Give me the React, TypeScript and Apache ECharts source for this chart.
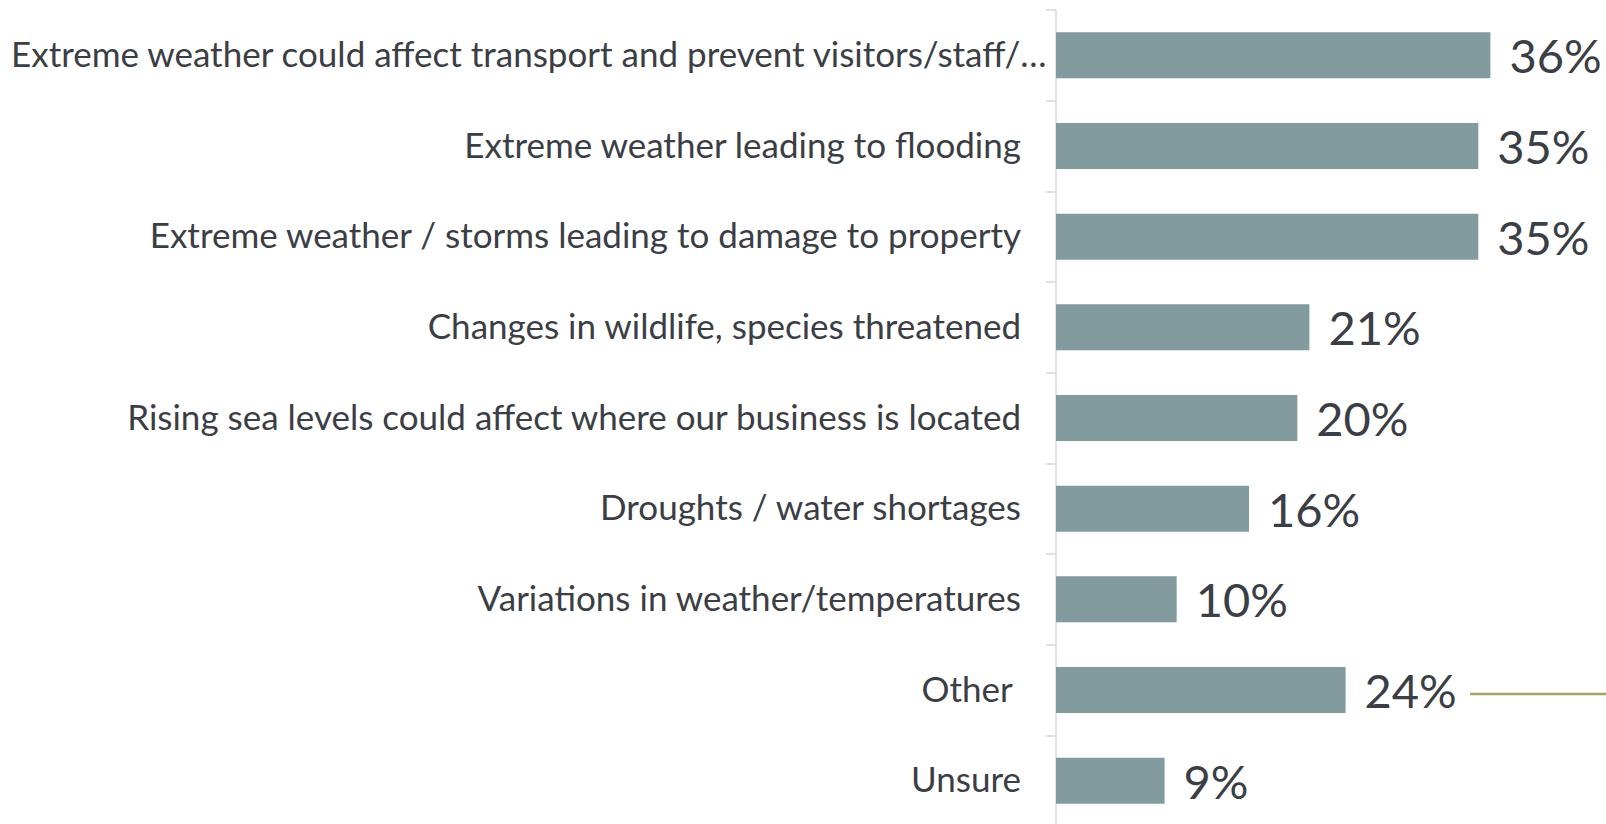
import React, { useEffect, useRef } from "react";
import * as echarts from "echarts";

const categories = [
  "Extreme weather could affect transport and prevent visitors/staff/…",
  "Extreme weather leading to flooding",
  "Extreme weather / storms leading to damage to property",
  "Changes in wildlife, species threatened",
  "Rising sea levels could affect where our business is located",
  "Droughts / water shortages",
  "Variations in weather/temperatures",
  "Other ",
  "Unsure",
];
const values = [36, 35, 35, 21, 20, 16, 10, 24, 9];

const FONT = "Lato";
const TEXT = "#3B3E45";

export default function App() {
  const ref = useRef<HTMLDivElement>(null);
  useEffect(() => {
    if (!ref.current) return;
    const chart = echarts.init(ref.current, null, { renderer: "svg" });
    chart.setOption({
      animation: false,
      backgroundColor: "#ffffff",
      grid: {
        left: 1056,
        top: 10,
        width: 543,
        height: 816,
        containLabel: false,
        outerBoundsMode: "none",
      },
      xAxis: {
        type: "value",
        min: 0,
        max: 45,
        show: false,
      },
      yAxis: {
        type: "category",
        inverse: true,
        data: categories,
        axisLine: { show: true, lineStyle: { color: "#D9D9D9", width: 1.5 } },
        axisTick: { show: true, length: 10, lineStyle: { color: "#D9D9D9", width: 1.5 } },
        axisLabel: {
          margin: 35,
          fontFamily: FONT,
          fontSize: 35,
          color: TEXT,
          padding: [0, 0, 5, 0],
          formatter: (v: string, i: number) => (i === 0 ? `{first|${v}}` : v),
          rich: {
            first: {
              width: 1010,
              align: "left",
              fontFamily: FONT,
              fontSize: 35,
              color: TEXT,
            },
          },
        },
        splitLine: { show: false },
      },
      series: [
        {
          type: "bar",
          data: values,
          barWidth: 46,
          itemStyle: { color: "#819B9E" },
          label: {
            show: true,
            position: "right",
            distance: 19,
            formatter: "{c}%",
            fontFamily: FONT,
            fontSize: 47,
            color: TEXT,
          },
        },
      ],
      graphic: [
        {
          type: "line",
          shape: { x1: 1470, y1: 694, x2: 1606, y2: 694 },
          style: { stroke: "#A6A45E", lineWidth: 2.5 },
          silent: true,
        },
      ],
    });
    return () => chart.dispose();
  }, []);
  return (
    <div
      ref={ref}
      style={{ position: "absolute", left: 0, top: 0, width: 1606, height: 824 }}
    />
  );
}
